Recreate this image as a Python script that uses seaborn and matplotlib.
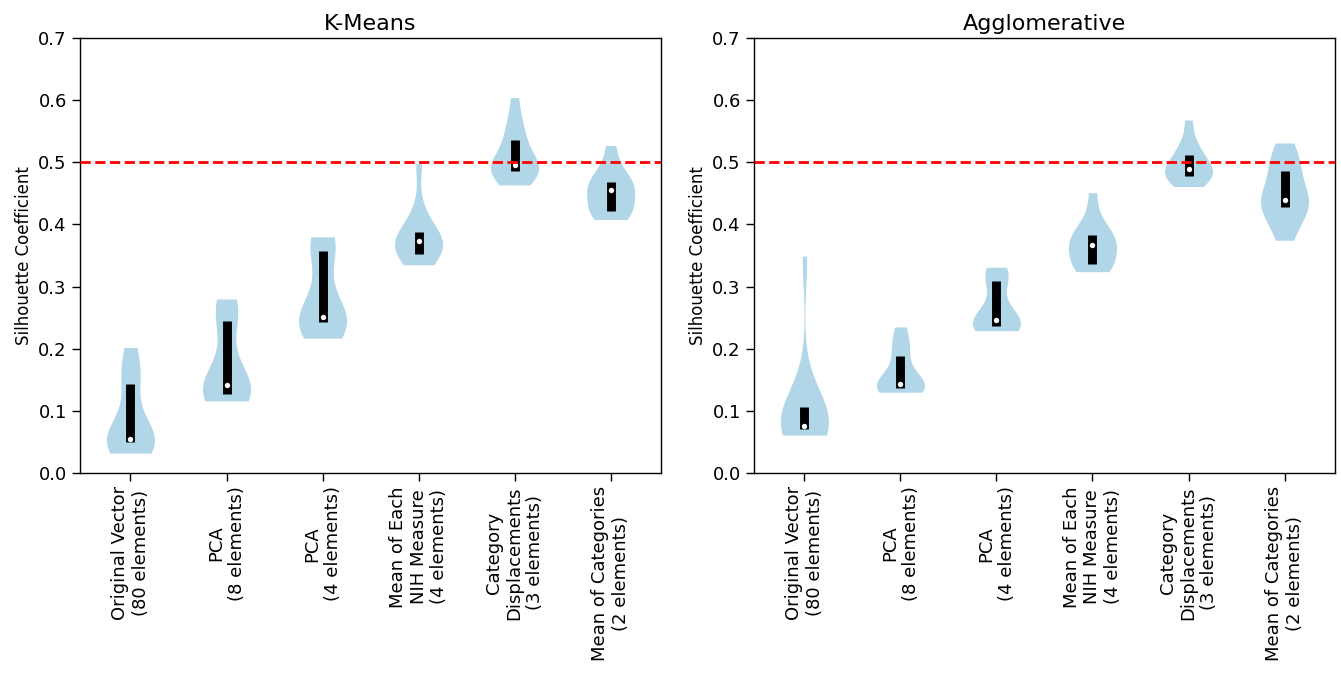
import numpy as np
import pandas as pd
import matplotlib
matplotlib.use("Agg")
import matplotlib.pyplot as plt
import seaborn as sns

categories = [
    "Original Vector\n(80 elements)",
    "PCA\n(8 elements)",
    "PCA\n(4 elements)",
    "Mean of Each\nNIH Measure\n(4 elements)",
    "Category\nDisplacements\n(3 elements)",
    "Mean of Categories\n(2 elements)",
]

# K-Means silhouette scores per representation
km_original = [0.032, 0.042, 0.047, 0.050, 0.052, 0.054, 0.055, 0.062, 0.085, 0.143, 0.150, 0.175, 0.202]
km_pca8 = [0.116, 0.122, 0.125, 0.127, 0.133, 0.138, 0.141, 0.150, 0.175, 0.244, 0.255, 0.268, 0.280]
km_pca4 = [0.217, 0.230, 0.238, 0.2425, 0.245, 0.248, 0.2505, 0.262, 0.300, 0.357, 0.365, 0.372, 0.380]
km_nih = [0.335, 0.345, 0.349, 0.352, 0.362, 0.368, 0.374, 0.378, 0.382, 0.387, 0.400, 0.425, 0.498]
km_catdisp = [0.4635, 0.475, 0.482, 0.4865, 0.490, 0.493, 0.4957, 0.500, 0.515, 0.536, 0.548, 0.565, 0.604]
km_meancat = [0.408, 0.415, 0.419, 0.422, 0.432, 0.444, 0.455, 0.460, 0.464, 0.468, 0.478, 0.495, 0.527]

# Agglomerative silhouette scores per representation
ag_original = [0.061, 0.066, 0.068, 0.070, 0.072, 0.074, 0.0756, 0.082, 0.095, 0.106, 0.120, 0.140, 0.349]
ag_pca8 = [0.130, 0.133, 0.135, 0.137, 0.139, 0.141, 0.143, 0.148, 0.160, 0.189, 0.200, 0.215, 0.235]
ag_pca4 = [0.229, 0.232, 0.235, 0.237, 0.240, 0.243, 0.2457, 0.252, 0.270, 0.3085, 0.315, 0.322, 0.331]
ag_nih = [0.324, 0.330, 0.333, 0.336, 0.350, 0.360, 0.367, 0.372, 0.378, 0.3835, 0.392, 0.410, 0.451]
ag_catdisp = [0.461, 0.468, 0.474, 0.478, 0.482, 0.486, 0.489, 0.495, 0.503, 0.511, 0.520, 0.535, 0.568]
ag_meancat = [0.3745, 0.395, 0.415, 0.4286, 0.432, 0.436, 0.439, 0.450, 0.470, 0.4865, 0.498, 0.512, 0.531]

threshold = 0.5
titles = ["K-Means", "Agglomerative"]
yticks = [0.0, 0.1, 0.2, 0.3, 0.4, 0.5, 0.6, 0.7]

panels = [
    [km_original, km_pca8, km_pca4, km_nih, km_catdisp, km_meancat],
    [ag_original, ag_pca8, ag_pca4, ag_nih, ag_catdisp, ag_meancat],
]

sns.set_style("white")
plt.rcParams["font.family"] = ["DejaVu Sans"]
for key in ["text.color", "axes.labelcolor", "xtick.color", "ytick.color", "axes.edgecolor"]:
    plt.rcParams[key] = "black"

TICK_FS = 13
LABEL_FS = 12
TITLE_FS = 16

fig, axes = plt.subplots(1, 2, figsize=(13.41, 6.78), dpi=100)
fig.subplots_adjust(left=0.0597, right=0.9955, bottom=0.3024, top=0.944, wspace=0.16)

violin_color = "#b1d6e8"

for ax, title, groups in zip(axes, titles, panels):
    rows = []
    for cat, vals in zip(categories, groups):
        for v in vals:
            rows.append({"cat": cat, "score": v})
    df = pd.DataFrame(rows)
    sns.violinplot(data=df, x="cat", y="score", order=categories, ax=ax,
                   cut=0, inner=None, width=0.5, density_norm="width",
                   color=violin_color, saturation=1, linewidth=0)
    q1 = [np.percentile(g, 25) for g in groups]
    med = [np.percentile(g, 50) for g in groups]
    q3 = [np.percentile(g, 75) for g in groups]
    pos = np.arange(len(categories))
    ax.vlines(pos, q1, q3, color="k", linestyle="-", lw=6.4, zorder=3)
    ax.scatter(pos, med, marker="o", color="white", s=15, zorder=4, linewidths=0)
    ax.axhline(threshold, color="red", linestyle="--", lw=2, zorder=5)

    ax.set_xlim(-0.525, len(categories) - 1 + 0.525)
    ax.set_ylim(0, 0.7)
    ax.set_yticks(yticks)
    ax.set_yticklabels([f"{t:.1f}" for t in yticks], fontsize=TICK_FS)
    ax.set_xticks(pos)
    ax.set_xticklabels(categories, rotation=90, fontsize=TICK_FS, ha="center", multialignment="center")
    ax.set_xlabel("")
    ax.set_ylabel("Silhouette Coefficient", fontsize=LABEL_FS)
    ax.set_title(title, fontsize=TITLE_FS)
    ax.tick_params(axis="both", which="major", length=6, width=1.0, bottom=True, left=True,
                   color="k", labelcolor="k")
    for sp in ax.spines.values():
        sp.set_visible(True)
        sp.set_color("k")
        sp.set_linewidth(1.0)

fig.savefig("out.png", dpi=100)
